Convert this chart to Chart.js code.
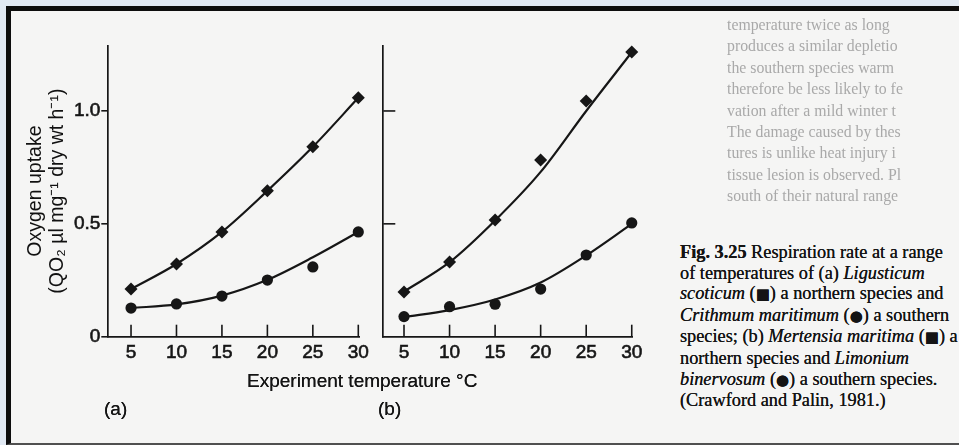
<!DOCTYPE html>
<html><head><meta charset="utf-8">
<script src="https://cdn.jsdelivr.net/npm/chart.js@4.4.1/dist/chart.umd.min.js"></script>
<style>
html,body{margin:0;padding:0;}
body{width:959px;height:445px;background:#e1e9f3;position:relative;overflow:hidden;font-family:"Liberation Sans",Arial,sans-serif;}
#page{position:absolute;left:6px;top:6px;width:953px;height:439px;background:#f5f5f4;border-top:5px solid #0d0d0d;border-left:5px solid #0d0d0d;border-bottom:2px solid #505050;box-sizing:border-box;}
.abs{position:absolute;white-space:nowrap;}
#cwA{position:absolute;left:0;top:0;width:370px;height:445px;}
#cwB{position:absolute;left:370px;top:0;width:280px;height:445px;}
.sans{font-family:"Liberation Sans",Arial,sans-serif;color:#141414;text-shadow:0 0 0.6px #141414;}
#caption{left:680px;top:242px;font-family:"Liberation Serif","Times New Roman",serif;font-size:18.3px;line-height:20.6px;color:#141414;text-shadow:0 0 0.5px #141414;}
#caption .sym{font-family:"DejaVu Sans",sans-serif;font-size:15px;}
#ghost{left:727px;top:14px;font-family:"Liberation Serif","Times New Roman",serif;font-size:15.8px;line-height:21.4px;color:#a9a9a9;filter:blur(0.5px);}
</style>
</head><body>
<div id="page"></div>
<div id="ghost" class="abs">temperature twice as long<br>produces a similar depletio<br>the southern species warm<br>therefore be less likely to fe<br>vation after a mild winter t<br>The damage caused by thes<br>tures is unlike heat injury i<br>tissue lesion is observed. Pl<br>south of their natural range</div>
<div id="cwA"><canvas id="chartA" width="370" height="445"></canvas></div>
<div id="cwB"><canvas id="chartB" width="280" height="445"></canvas></div>
<div class="abs sans" style="left:247px;top:370px;font-size:19px;">Experiment temperature °C</div>
<div class="abs sans" style="left:104px;top:398px;font-size:19px;">(a)</div>
<div class="abs sans" style="left:378px;top:398px;font-size:19px;">(b)</div>
<div id="caption" class="abs"><b>Fig. 3.25</b> Respiration rate at a range<br>of temperatures of (a) <i>Ligusticum</i><br><i>scoticum</i> (<span class="sym">■</span>) a northern species and<br><i>Crithmum maritimum</i> (<span class="sym">●</span>) a southern<br>species; (b) <i>Mertensia maritima</i> (<span class="sym">■</span>) a<br>northern species and <i>Limonium</i><br><i>binervosum</i> (<span class="sym">●</span>) a southern species.<br>(Crawford and Palin, 1981.)</div>
<script>
// ---- data ----
const temps = [5, 10, 15, 20, 25, 30];
const xTickValues = [5, 10, 15, 20, 25, 30];
const yTickValues = [0, 0.5, 1.0];
const yTickLabels = ['0', '0.5', '1.0'];
// panel (a)
const aNorthern    = [0.211, 0.322, 0.464, 0.646, 0.841, 1.058];   // Ligusticum scoticum (diamond)
const aSouthern    = [0.127, 0.145, 0.180, 0.251, 0.309, 0.464];   // Crithmum maritimum (circle)
const aNorthernFit = [0.211, 0.322, 0.464, 0.646, 0.841, 1.058];
const aSouthernFit = [0.127, 0.143, 0.182, 0.252, 0.352, 0.464];
// panel (b)
const bNorthern    = [0.198, 0.331, 0.517, 0.783, 1.044, 1.261];   // Mertensia maritima (diamond)
const bSouthern    = [0.089, 0.133, 0.144, 0.211, 0.362, 0.504];   // Limonium binervosum (circle)
const bNorthernFit = [0.200, 0.330, 0.515, 0.730, 1.000, 1.260];
const bSouthernFit = [0.087, 0.118, 0.165, 0.240, 0.360, 0.500];

const INK = '#161616';
const FONT = '"Liberation Sans", Arial, sans-serif';
const pts = (ys) => temps.map((t, i) => ({x: t, y: ys[i]}));

const innerTicks = {
  id: 'innerTicks',
  afterDatasetsDraw(chart, args, o) {
    const {ctx, chartArea} = chart;
    ctx.save();
    ctx.strokeStyle = INK;
    ctx.lineWidth = 1.6;
    if (o.x) {
      const sx = chart.scales.x;
      o.x.forEach(v => {
        const px = sx.getPixelForValue(v);
        ctx.beginPath(); ctx.moveTo(px, chartArea.bottom); ctx.lineTo(px, chartArea.bottom - o.len); ctx.stroke();
      });
    }
    if (o.y) {
      const sy = chart.scales.y;
      o.y.forEach(v => {
        if (v === 0) return;
        const py = sy.getPixelForValue(v);
        ctx.beginPath(); ctx.moveTo(chartArea.left, py); ctx.lineTo(chartArea.left + o.len, py); ctx.stroke();
      });
    }
    ctx.restore();
  }
};

function datasets(north, south, northFit, southFit) {
  return [
    {data: pts(north), pointStyle: 'rectRot', pointRadius: 6.5, backgroundColor: INK, borderColor: INK, borderWidth: 0, showLine: false, clip: false},
    {data: pts(south), pointStyle: 'circle', pointRadius: 5.6, backgroundColor: INK, borderColor: INK, borderWidth: 0, showLine: false, clip: false},
    {data: pts(northFit), showLine: true, pointRadius: 0, borderColor: INK, borderWidth: 2.2, cubicInterpolationMode: 'monotone', fill: false, clip: false},
    {data: pts(southFit), showLine: true, pointRadius: 0, borderColor: INK, borderWidth: 2.2, cubicInterpolationMode: 'monotone', fill: false, clip: false}
  ];
}

function makeChart(id, ds, cfg) {
  return new Chart(document.getElementById(id), {
    type: 'scatter',
    data: {datasets: ds},
    plugins: [innerTicks],
    options: {
      responsive: false, animation: false, events: [],
      layout: {padding: {left: 0, top: cfg.top, right: cfg.right, bottom: 0}},
      plugins: {legend: {display: false}, tooltip: {enabled: false},
        innerTicks: {x: xTickValues, y: cfg.innerY ? yTickValues : null, len: 12}},
      scales: {
        x: {
          type: 'linear', min: cfg.xmin, max: cfg.xmax,
          afterBuildTicks: s => { s.ticks = xTickValues.map(v => ({value: v})); },
          afterFit: s => { s.height = 445 - 336.7; },
          grid: {display: false},
          border: {display: true, color: INK, width: 1.7},
          ticks: {color: '#151515', font: {family: FONT, size: 19}, padding: -3, maxRotation: 0, autoSkip: false,
            textStrokeColor: '#151515', textStrokeWidth: 0.6}
        },
        y: {
          type: 'linear', min: 0, max: 1.29,
          afterBuildTicks: s => { s.ticks = yTickValues.map(v => ({value: v})); },
          afterFit: s => { s.width = cfg.yWidth; },
          grid: {display: cfg.outerY, drawOnChartArea: false, drawTicks: true, tickLength: 7, color: INK, lineWidth: 1.6},
          border: {display: true, color: INK, width: 1.7},
          ticks: {display: cfg.outerY, color: '#151515', font: {family: FONT, size: 19}, padding: 1,
            textStrokeColor: '#151515', textStrokeWidth: 0.6,
            callback: (v) => yTickLabels[yTickValues.indexOf(v)] ?? ''},
          title: {display: cfg.title, text: ['Oxygen uptake', '(QO₂ µl mg⁻¹ dry wt h⁻¹)'], color: '#111111',
            font: {family: FONT, size: 19.5, lineHeight: 1.13}, padding: {top: 25, bottom: 0}}
        }
      }
    }
  });
}

makeChart('chartA', datasets(aNorthern, aSouthern, aNorthernFit, aSouthernFit),
  {xmin: 2.5, xmax: 30.1, top: 45.5, right: 370 - 359.2, yWidth: 108.3, outerY: true, innerY: false, title: true});
makeChart('chartB', datasets(bNorthern, bSouthern, bNorthernFit, bSouthernFit),
  {xmin: 2.727, xmax: 30.05, top: 45.5, right: 280 - 262.2, yWidth: 13.3, outerY: false, innerY: true, title: false});
</script>
</body></html>
